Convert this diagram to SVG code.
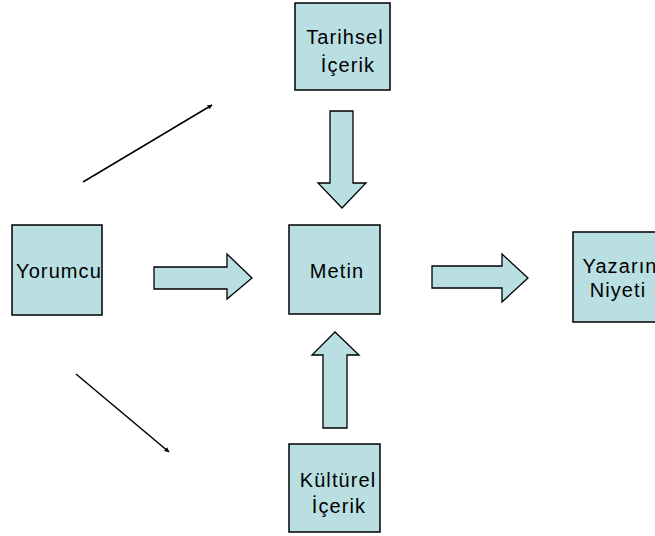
<svg xmlns="http://www.w3.org/2000/svg" width="655" height="536" viewBox="0 0 655 536">
<style>
.box{fill:#b9dfe2;stroke:#000;stroke-width:1.5}
.blk{fill:#b9dfe2;stroke:#000;stroke-width:1.3;stroke-linejoin:miter}
.t{font-family:"Liberation Sans",Arial,sans-serif;font-size:20px;letter-spacing:1.1px;fill:#000;text-anchor:middle}
.ln{stroke:#000;stroke-width:1.5;fill:none}
</style>
<defs>
<marker id="ah" viewBox="0 0 10 10" refX="9" refY="5" markerWidth="5" markerHeight="5" orient="auto" markerUnits="userSpaceOnUse">
<path d="M0,0 L10,5 L0,10 z" fill="#000"/>
</marker>
</defs>
<rect width="655" height="536" fill="#fff"/>
<g id="tarihsel">
<rect class="box" x="295" y="3" width="95" height="87"/>
<text class="t" x="345" y="44">Tarihsel</text>
<text class="t" x="348" y="72">İçerik</text>
</g>
<g id="yorumcu">
<rect class="box" x="12" y="225" width="90" height="90"/>
<text class="t" x="59" y="278">Yorumcu</text>
</g>
<g id="metin">
<rect class="box" x="289" y="225" width="91" height="89"/>
<text class="t" x="337" y="278">Metin</text>
</g>
<g id="yazarin">
<rect class="box" x="573" y="232" width="90" height="90"/>
<text class="t" x="620" y="273">Yazarın</text>
<text class="t" x="618" y="297">Niyeti</text>
</g>
<g id="kulturel">
<rect class="box" x="289" y="444" width="91" height="88"/>
<text class="t" x="338" y="487">Kültürel</text>
<text class="t" x="339" y="513">İçerik</text>
</g>
<g id="connectors">
<polygon class="blk" points="154,267 227,267 227,254 252,278 227,299 227,289 154,289"/>
<polygon class="blk" points="432,266 502,266 502,254 528,278 502,302 502,288 432,288"/>
<polygon class="blk" points="330,111 353,111 353,183 366,183 342,208 318,183 330,183"/>
<polygon class="blk" points="323,428 347,428 347,355 359,355 335,332 312,355 323,355"/>
<line class="ln" x1="83" y1="182" x2="212" y2="105" marker-end="url(#ah)"/>
<line class="ln" x1="76" y1="374" x2="169" y2="452" marker-end="url(#ah)"/>
</g>
</svg>
